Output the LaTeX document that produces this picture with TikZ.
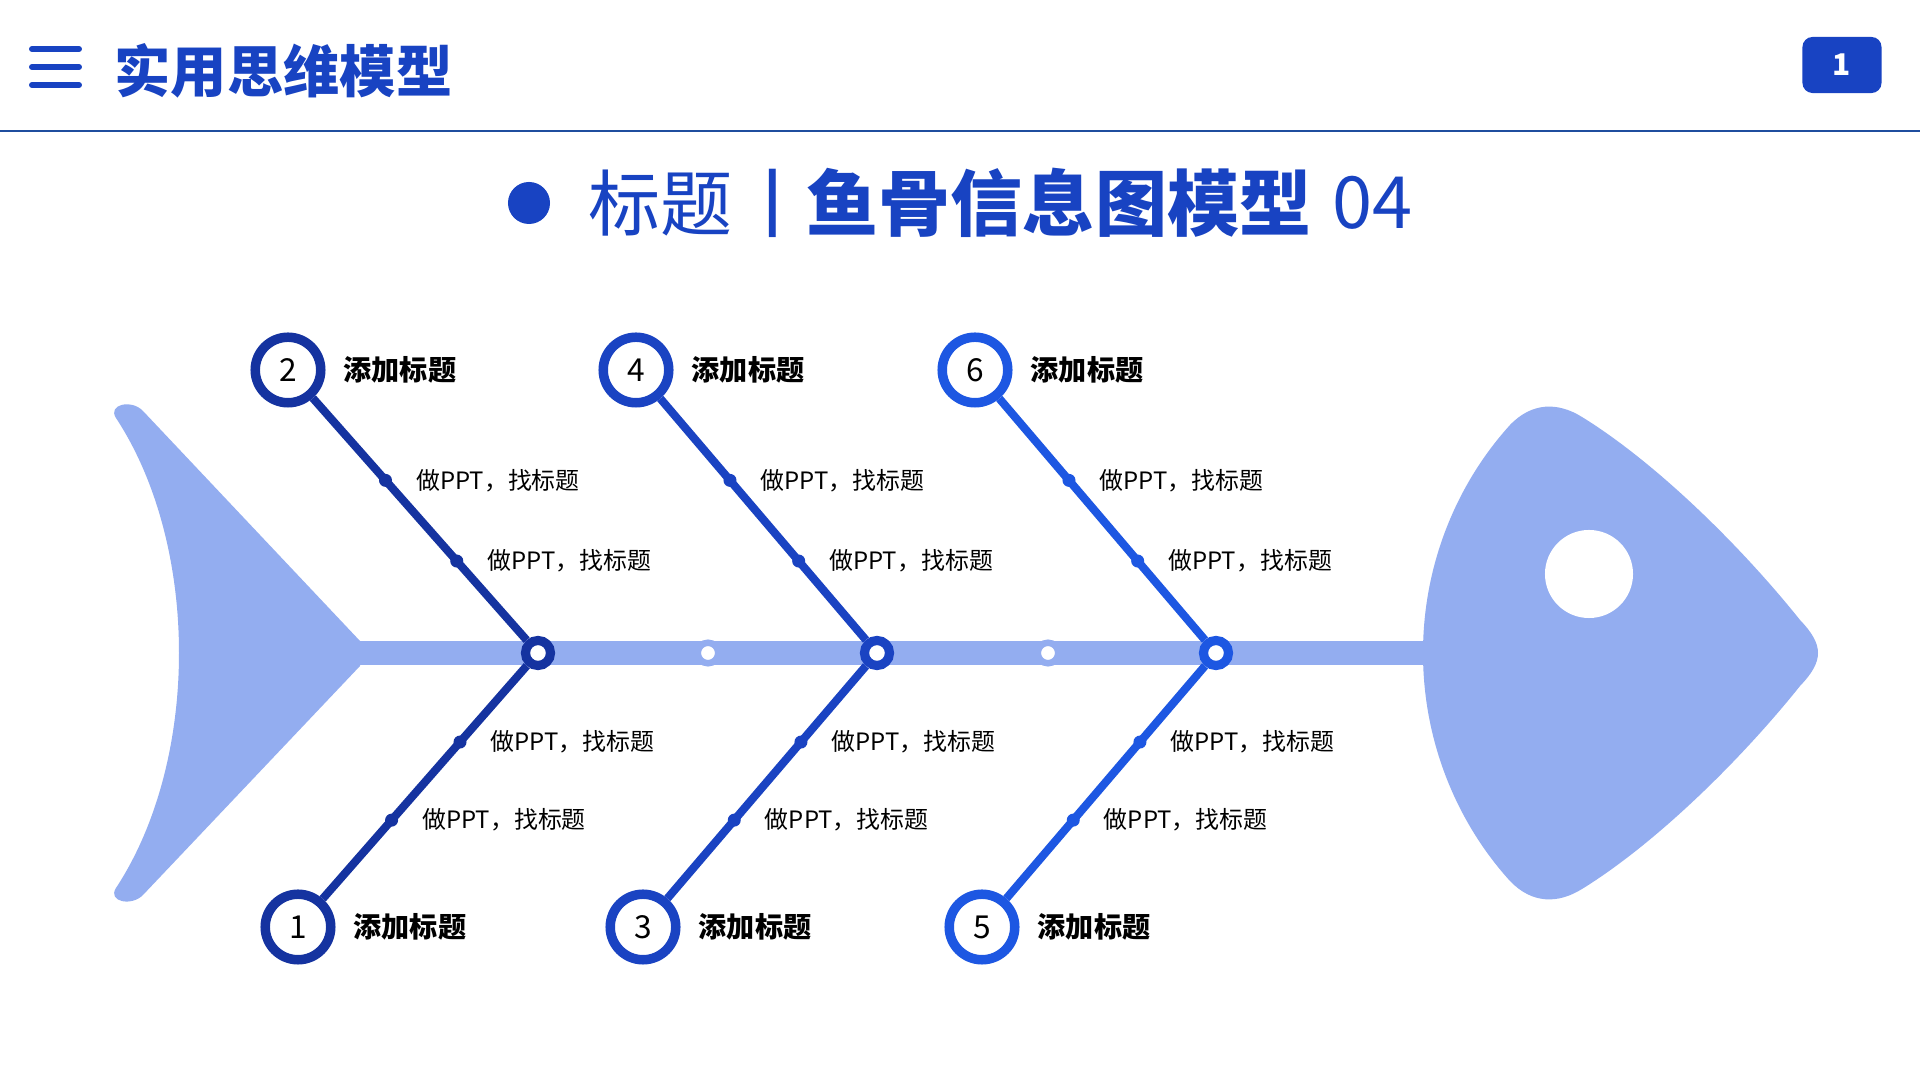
\documentclass[tikz,border=0pt]{standalone}
\usepackage{fontspec}
\setmainfont{Noto Sans CJK SC}
\usepackage{tikz}
\usetikzlibrary{positioning,calc}
\definecolor{fishc}{HTML}{93ADF0}
\definecolor{boneA}{HTML}{1533A0}
\definecolor{boneB}{HTML}{1A43C2}
\definecolor{boneC}{HTML}{1D57E2}
\definecolor{titlec}{HTML}{1843C2}
\definecolor{rulec}{HTML}{1F4D9E}
\tikzset{
  spine/.style={line width=7.1pt, fishc},
  bone/.style={line width=2.3pt},
  joint/.style={circle, line width=2.6pt, fill=white, minimum size=0.25cm, inner sep=0pt},
  ring/.style={circle, draw=fishc, line width=1.85pt, fill=white, minimum size=0.205cm, inner sep=0pt},
  num/.style={circle, line width=2.7pt, fill=white, minimum size=0.655cm, inner sep=0pt, text=black, font=\fontsize{9}{9}\selectfont},
  bonedot/.style={circle, inner sep=0pt, minimum size=0.13cm},
  ttl/.style={anchor=west, inner sep=0pt, font=\bfseries\fontsize{8}{8}\selectfont},
  note/.style={anchor=west, inner sep=0pt, font=\fontsize{6.8}{6.8}\selectfont},
  subt/.style={anchor=west, inner sep=0pt, text=titlec, font=\fontsize{20.5}{20.5}\selectfont}
}

\begin{document}
\begin{tikzpicture}[x=0.01cm,y=-0.01cm]

    % Page
    \fill[white] (0,0) rectangle (1920,1080);
    \useasboundingbox (0,0) rectangle (1920,1080);

    % Header
    \foreach \y in {49,67,85}
      \draw[titlec, line width=1.7pt, line cap=round] (32,\y) -- (79,\y);
    \node[anchor=west, inner sep=0pt, text=titlec, font=\bfseries\fontsize{16}{16}\selectfont] (head) at (114,71) {实用思维模型};
    \draw[rulec, line width=0.7pt] (0,131) -- (1920,131);
    \node[rectangle, rounded corners=0.1cm, fill=titlec, minimum width=0.79cm, minimum height=0.56cm,
      text=white, font=\bfseries\fontsize{8.5}{8.5}\selectfont] (page) at (1842,65) {1};

    % Subtitle
    \fill[titlec] (529,203) circle (0.21cm);
    \node[subt] (sub1) at (588,203) {标题};
    \node[subt, font=\bfseries\fontsize{17}{17}\selectfont] (sub2) at (763,203) {|};
    \node[subt, font=\bfseries\fontsize{20.5}{20.5}\selectfont] (sub3) at (806,203) {鱼骨信息图模型};
    \node[subt] (sub4) at (1332,203) {04};

    % Spine
    \draw[spine] (359,653) -- (1440,653);

    % Tail
    \fill[fishc] (360,641) -- (360,666) -- (143,895) to[out=226,in=237,looseness=1.5] (116,888)
      .. controls (200,760) and (200,546) .. (116,418)
      to[out=123,in=133,looseness=1.5] (143,411) -- cycle;

    % Head
    \fill[fishc] (1423,653) .. controls (1423,560) and (1460,480) .. (1510,425)
      .. controls (1532,402) and (1558,402) .. (1582,417)
      .. controls (1655,462) and (1740,545) .. (1800,620)
      .. controls (1824,645) and (1824,661) .. (1800,686)
      .. controls (1740,761) and (1655,844) .. (1582,889)
      .. controls (1558,904) and (1532,904) .. (1510,881)
      .. controls (1460,826) and (1423,746) .. cycle;
    \fill[white] (1589,574) circle (0.44cm);

    % Spine rings
    \node[ring] (r1) at (708,653) {};
    \node[ring] (r2) at (1048,653) {};

    % Joints and numbered circles
    \node[joint, draw=boneA] (j1) at (538,653) {};
    \node[joint, draw=boneB] (j2) at (877,653) {};
    \node[joint, draw=boneC] (j3) at (1216,653) {};
    \node[num, draw=boneA] (c1) at (298,927) {1};
    \node[num, draw=boneA] (c2) at (288,370) {2};
    \node[num, draw=boneB] (c3) at (643,927) {3};
    \node[num, draw=boneB] (c4) at (636,370) {4};
    \node[num, draw=boneC] (c5) at (982,927) {5};
    \node[num, draw=boneC] (c6) at (975,370) {6};

    % Bones
    \draw[bone, boneA] (j1) -- (c1);
    \draw[bone, boneA] (j1) -- (c2);
    \draw[bone, boneB] (j2) -- (c3);
    \draw[bone, boneB] (j2) -- (c4);
    \draw[bone, boneC] (j3) -- (c5);
    \draw[bone, boneC] (j3) -- (c6);

    % Dots on bones
    \coordinate (d1a) at ($(j1)!0.325!(c1)$);
    \coordinate (d1b) at ($(j1)!0.61!(c1)$);
    \coordinate (d2a) at ($(j1)!0.325!(c2)$);
    \coordinate (d2b) at ($(j1)!0.61!(c2)$);
    \coordinate (d3a) at ($(j2)!0.325!(c3)$);
    \coordinate (d3b) at ($(j2)!0.61!(c3)$);
    \coordinate (d4a) at ($(j2)!0.325!(c4)$);
    \coordinate (d4b) at ($(j2)!0.61!(c4)$);
    \coordinate (d5a) at ($(j3)!0.325!(c5)$);
    \coordinate (d5b) at ($(j3)!0.61!(c5)$);
    \coordinate (d6a) at ($(j3)!0.325!(c6)$);
    \coordinate (d6b) at ($(j3)!0.61!(c6)$);
    \foreach \d/\c in {d1a/boneA,d1b/boneA,d2a/boneA,d2b/boneA,d3a/boneB,d3b/boneB,
                       d4a/boneB,d4b/boneB,d5a/boneC,d5b/boneC,d6a/boneC,d6b/boneC}
      \node[bonedot, fill=\c] at (\d) {};

    % Titles
    \node[ttl, right=0.175cm of c1] (t1) {添加标题};
    \node[ttl, right=0.175cm of c2] (t2) {添加标题};
    \node[ttl, right=0.175cm of c3] (t3) {添加标题};
    \node[ttl, right=0.175cm of c4] (t4) {添加标题};
    \node[ttl, right=0.175cm of c5] (t5) {添加标题};
    \node[ttl, right=0.175cm of c6] (t6) {添加标题};

    % Notes
    \node[note, right=0.3cm of d1a] (n1a) {做PPT，找标题};
    \node[note, right=0.3cm of d1b] (n1b) {做PPT，找标题};
    \node[note, right=0.3cm of d2a] (n2a) {做PPT，找标题};
    \node[note, right=0.3cm of d2b] (n2b) {做PPT，找标题};
    \node[note, right=0.3cm of d3a] (n3a) {做PPT，找标题};
    \node[note, right=0.3cm of d3b] (n3b) {做PPT，找标题};
    \node[note, right=0.3cm of d4a] (n4a) {做PPT，找标题};
    \node[note, right=0.3cm of d4b] (n4b) {做PPT，找标题};
    \node[note, right=0.3cm of d5a] (n5a) {做PPT，找标题};
    \node[note, right=0.3cm of d5b] (n5b) {做PPT，找标题};
    \node[note, right=0.3cm of d6a] (n6a) {做PPT，找标题};
    \node[note, right=0.3cm of d6b] (n6b) {做PPT，找标题};

\end{tikzpicture}
\end{document}
